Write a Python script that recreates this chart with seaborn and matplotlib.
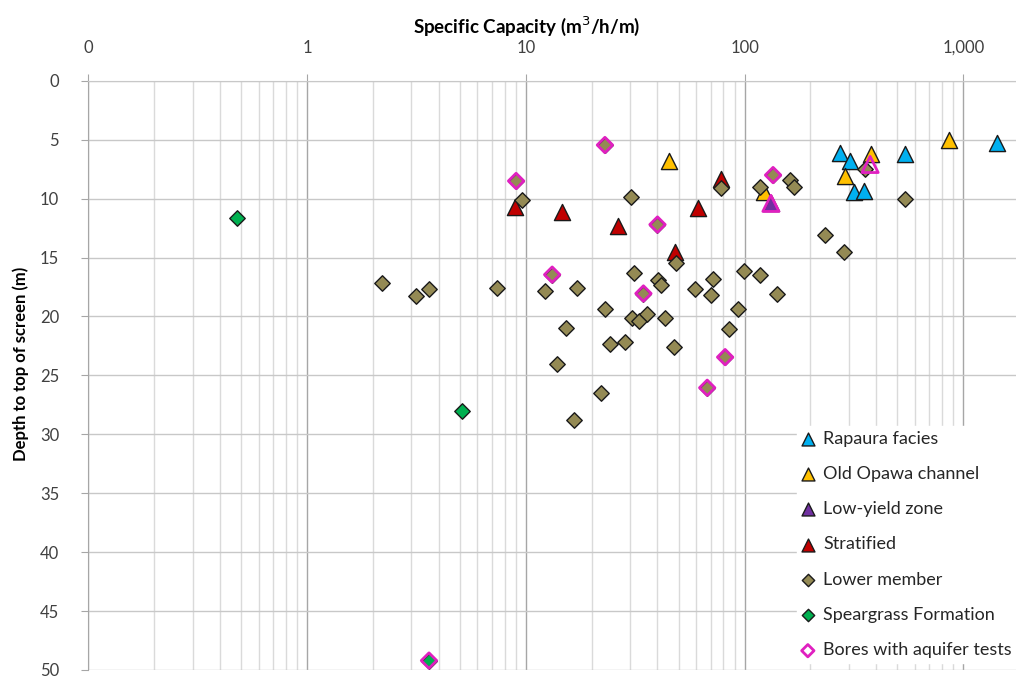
import matplotlib
matplotlib.use("Agg")
import matplotlib.pyplot as plt
import matplotlib.ticker as mticker
import seaborn as sns
import numpy as np

# ---------------- data ----------------
rapaura_x = [272, 304, 318, 351, 542, 1424]
rapaura_y = [6.1, 6.8, 9.4, 9.35, 6.2, 5.3]

opawa_x = [45.2, 123, 379, 288, 862]
opawa_y = [6.8, 9.45, 6.2, 8.1, 5.0]

lowyield_x = [132]
lowyield_y = [10.4]

strat_x = [8.96, 14.7, 26.5, 61.0, 78.0, 48.2]
strat_y = [10.75, 11.15, 12.35, 10.8, 8.35, 14.5]

lower_x = [9.62, 30.2, 78.2, 117.8, 161.5, 169, 356, 233, 285, 542,
           48.6, 2.20, 3.15, 3.60, 7.41, 12.25, 17.2, 31.2, 40.4, 41.4,
           59.3, 71.6, 70.4, 99.3, 117.8, 140.6, 23.1, 15.2, 30.7, 32.9,
           35.7, 43.3, 93.2, 84.8, 24.3, 28.5, 47.8, 13.9, 22.0, 16.6,
           23.0, 9.03, 135, 40.0, 13.2, 34.5, 81.5, 67.5]
lower_y = [10.1, 9.9, 9.1, 9.0, 8.4, 9.05, 7.5, 13.05, 14.5, 10.05,
           15.45, 17.2, 18.25, 17.65, 17.55, 17.8, 17.6, 16.35, 16.9, 17.35,
           17.7, 16.8, 18.2, 16.1, 16.5, 18.1, 19.35, 20.95, 20.15, 20.4,
           19.75, 20.15, 19.4, 21.05, 22.3, 22.2, 22.6, 24.0, 26.5, 28.8,
           5.45, 8.5, 8.0, 12.2, 16.45, 18.05, 23.45, 26.05]

spear_x = [0.479, 5.11, 3.61]
spear_y = [11.65, 28.0, 49.2]

tests_diamond_x = [23.0, 9.03, 135, 40.0, 13.2, 34.5, 81.5, 67.5, 3.61]
tests_diamond_y = [5.45, 8.5, 8.0, 12.2, 16.45, 18.05, 23.45, 26.05, 49.2]
tests_triangle_x = [132, 375]
tests_triangle_y = [10.4, 7.1]

x_ticks = [0.1, 1, 10, 100, 1000]
x_tick_labels = ["0", "1", "10", "100", "1,000"]
y_ticks = list(range(0, 51, 5))

# ---------------- style ----------------
sns.set_style("white")
plt.rcParams["font.family"] = ["Lato", "DejaVu Sans"]

fig = plt.figure(figsize=(10.16, 6.79), dpi=100)
ax_bottom = 1 - 670 / 679
ax = fig.add_axes([0.0869, ax_bottom, 1 - 0.0869, 0.881 - ax_bottom])

tri_s = 135
dia_s = 62
ec = "#1a1a1a"
lw = 1.0

sns.scatterplot(x=rapaura_x, y=rapaura_y, marker="^", s=tri_s, color="#00B0F0",
                edgecolor=ec, linewidth=lw, label="Rapaura facies", ax=ax, zorder=3)
sns.scatterplot(x=opawa_x, y=opawa_y, marker="^", s=tri_s, color="#FFC000",
                edgecolor=ec, linewidth=lw, label="Old Opawa channel", ax=ax, zorder=4)
sns.scatterplot(x=lowyield_x, y=lowyield_y, marker="^", s=tri_s, color="#7030A0",
                edgecolor=ec, linewidth=lw, label="Low-yield zone", ax=ax, zorder=5)
sns.scatterplot(x=strat_x, y=strat_y, marker="^", s=tri_s, color="#C00000",
                edgecolor=ec, linewidth=lw, label="Stratified", ax=ax, zorder=6)
sns.scatterplot(x=lower_x, y=lower_y, marker="D", s=dia_s, color="#948A54",
                edgecolor=ec, linewidth=lw, label="Lower member", ax=ax, zorder=7)
sns.scatterplot(x=spear_x, y=spear_y, marker="D", s=dia_s, color="#00B050",
                edgecolor=ec, linewidth=lw, label="Speargrass Formation", ax=ax, zorder=8)
sns.scatterplot(x=tests_diamond_x, y=tests_diamond_y, marker="D", s=dia_s,
                facecolor="none", edgecolor="#E020C0", linewidth=2.0,
                label="Bores with aquifer tests", ax=ax, zorder=9)
sns.scatterplot(x=tests_triangle_x, y=tests_triangle_y, marker="^", s=tri_s,
                facecolor="none", edgecolor="#E020C0", linewidth=2.0,
                ax=ax, zorder=9, legend=False)

ax.set_xscale("log")
ax.set_xlim(0.1, 10 ** (3 + (1016 - 963.3) / 218.7))
ax.set_ylim(50, 0)

ax.xaxis.tick_top()
ax.xaxis.set_label_position("top")
ax.set_xticks(x_ticks)
ax.set_xticklabels(x_tick_labels)
ax.xaxis.set_minor_locator(mticker.LogLocator(base=10, subs=np.arange(2, 10)))
ax.xaxis.set_minor_formatter(mticker.NullFormatter())
ax.set_yticks(y_ticks)

ax.tick_params(axis="x", which="major", top=True, bottom=False, length=5,
               color="#a6a6a6", labelsize=12, pad=13, labelcolor="#404040")
ax.tick_params(axis="x", which="minor", top=False, bottom=False)
ax.tick_params(axis="y", which="major", left=True, length=5, color="#a6a6a6",
               labelsize=12, pad=16, labelcolor="#404040")

ax.grid(which="major", axis="y", color="#c8c8c8", linewidth=1.0, zorder=0)
ax.grid(which="major", axis="x", color="#a6a6a6", linewidth=1.0, zorder=0)
ax.grid(which="minor", axis="x", color="#dadada", linewidth=1.0, zorder=0)
ax.set_axisbelow(True)

for side in ["right", "bottom"]:
    ax.spines[side].set_visible(False)
ax.spines["left"].set_color("#a6a6a6")
ax.spines["top"].set_color("#c8c8c8")

ax.set_xlabel("Specific Capacity (m$^3$/h/m)", fontsize=13.5, fontweight="bold",
              color="#000000")
ax.xaxis.set_label_coords(0.473, 1 + (81 - 26) / 589, transform=ax.transAxes)
ax.xaxis.label.set_va("center")
ax.set_ylabel("Depth to top of screen (m)", fontsize=12, fontweight="bold",
              color="#000000")
ax.yaxis.set_label_coords(-(88.3 - 21) / 927.7, 0.52, transform=ax.transAxes)
ax.yaxis.label.set_va("center")

leg = ax.legend(loc="upper left", bbox_to_anchor=(797 / 1016, 1 - 426 / 679),
                bbox_transform=fig.transFigure, frameon=True, fancybox=False,
                facecolor="white", edgecolor="white", framealpha=1.0,
                fontsize=13, labelspacing=1.07, handletextpad=0.5,
                handlelength=0.7, markerscale=0.8, borderpad=0.25,
                borderaxespad=0)
leg.set_zorder(20)

fig.savefig("out.png", dpi=100)
